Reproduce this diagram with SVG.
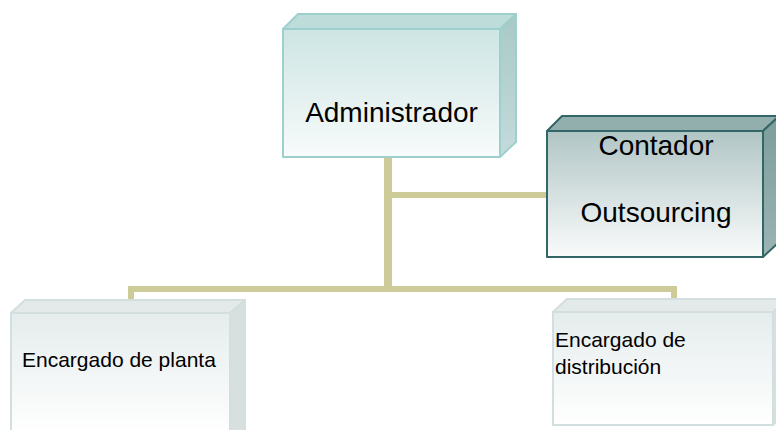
<svg xmlns="http://www.w3.org/2000/svg" width="776" height="430" viewBox="0 0 776 430">
  <style>
    .conn { stroke: #cdcc99; fill: none; stroke-linecap: butt; }
    .txt { font-family: "Liberation Sans", Arial, sans-serif; fill: #000; }
    .big { font-size: 28px; }
    .small { font-size: 21px; }
    .admin-edge { stroke: #9dd0cc; stroke-width: 2; stroke-linejoin: round; }
    .cont-edge { stroke: #336666; stroke-width: 2; stroke-linejoin: round; }
    .low-edge { stroke: #d3dede; stroke-width: 2; stroke-linejoin: round; }
  </style>
  <defs>
    <linearGradient id="gAdmin" x1="0" y1="0" x2="0" y2="1">
      <stop offset="0" stop-color="#cde5e3"/>
      <stop offset="1" stop-color="#f8fbfb"/>
    </linearGradient>
    <linearGradient id="gAdminSide" x1="0" y1="0" x2="0" y2="1">
      <stop offset="0" stop-color="#a8c9c7"/>
      <stop offset="1" stop-color="#c4dbda"/>
    </linearGradient>
    <linearGradient id="gCont" x1="0" y1="0" x2="0" y2="1">
      <stop offset="0" stop-color="#b1c5c5"/>
      <stop offset="1" stop-color="#fafbfb"/>
    </linearGradient>
    <linearGradient id="gContSide" x1="0" y1="0" x2="0" y2="1">
      <stop offset="0" stop-color="#7c9d9b"/>
      <stop offset="1" stop-color="#9bb4b3"/>
    </linearGradient>
    <linearGradient id="gLow" x1="0" y1="0" x2="0" y2="1">
      <stop offset="0" stop-color="#e5ecec"/>
      <stop offset="1" stop-color="#ffffff"/>
    </linearGradient>
  </defs>

  <g id="connectors">
    <line class="conn" x1="388" y1="156" x2="388" y2="292" stroke-width="8"/>
    <line class="conn" x1="388" y1="195" x2="548" y2="195" stroke-width="6"/>
    <line class="conn" x1="128" y1="289" x2="677" y2="289" stroke-width="6"/>
    <line class="conn" x1="131" y1="286" x2="131" y2="302" stroke-width="6"/>
    <line class="conn" x1="674" y1="286" x2="674" y2="302" stroke-width="6"/>
  </g>

  <g id="node-administrador">
    <polygon class="admin-edge" points="283,29 298,14 516,14 500,29" fill="#bddcda"/>
    <polygon class="admin-edge" points="500,29 516,14 516,142 500,157" fill="url(#gAdminSide)"/>
    <rect class="admin-edge" x="283" y="29" width="217" height="128" fill="url(#gAdmin)"/>
    <text class="txt big" x="391.5" y="122" text-anchor="middle">Administrador</text>
  </g>

  <g id="node-contador">
    <polygon class="cont-edge" points="547,131 562,116 779,116 763,131" fill="#93afad"/>
    <polygon class="cont-edge" points="763,131 779,116 779,242 763,257" fill="url(#gContSide)"/>
    <rect class="cont-edge" x="547" y="131" width="216" height="126" fill="url(#gCont)"/>
    <text class="txt big" x="656" y="155" text-anchor="middle">Contador</text>
    <text class="txt big" x="656" y="222" text-anchor="middle">Outsourcing</text>
  </g>

  <g id="node-planta">
    <polygon class="low-edge" points="11,313 25,300 245,300 230,313" fill="#e4eaea"/>
    <polygon class="low-edge" points="230,313 245,300 245,432 230,432" fill="#d8dfdf"/>
    <rect class="low-edge" x="11" y="313" width="219" height="120" fill="url(#gLow)"/>
    <text class="txt small" x="22" y="367">Encargado de planta</text>
  </g>

  <g id="node-distribucion">
    <polygon class="low-edge" points="553,312 567,299 787,299 773,312" fill="#e4eaea"/>
    <polygon class="low-edge" points="773,312 787,299 787,411 773,425" fill="#d8dfdf"/>
    <rect class="low-edge" x="553" y="312" width="220" height="113" fill="url(#gLow)"/>
    <text class="txt small" x="555" y="347">Encargado de</text>
    <text class="txt small" x="555" y="374">distribución</text>
  </g>
</svg>
